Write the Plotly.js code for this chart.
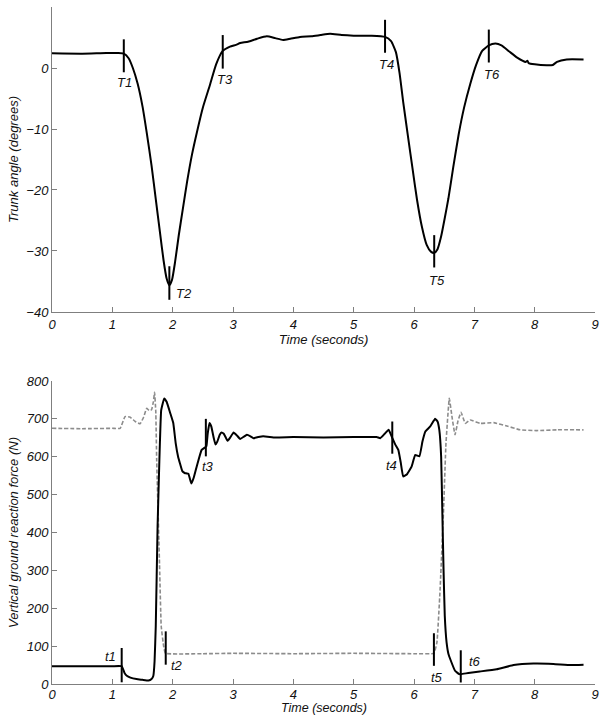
<!DOCTYPE html>
<html>
<head>
<meta charset="utf-8">
<script src="https://cdn.plot.ly/plotly-3.0.1.min.js"></script>
<style>
  html, body { margin: 0; padding: 0; background: #fff; }
  #plot { width: 600px; height: 716px; }
</style>
</head>
<body>
<div id="plot"></div>
<script>
// Trunk angle (top panel)
var tTrunk = [0, 0.5, 0.9, 1.1, 1.19, 1.27, 1.34, 1.42, 1.5, 1.57, 1.65, 1.72, 1.79, 1.85, 1.9, 1.945, 1.99, 2.04, 2.1, 2.17, 2.24, 2.32, 2.4, 2.5, 2.62, 2.72, 2.83, 2.95, 3.05, 3.12, 3.25, 3.4, 3.56, 3.7, 3.83, 3.95, 4.11, 4.3, 4.45, 4.61, 4.8, 5.0, 5.3, 5.52, 5.62, 5.7, 5.76, 5.82, 5.9, 5.98, 6.05, 6.13, 6.21, 6.28, 6.335, 6.39, 6.45, 6.51, 6.57, 6.65, 6.74, 6.83, 6.93, 7.03, 7.13, 7.24, 7.35, 7.45, 7.58, 7.71, 7.85, 7.88, 7.9, 8.0, 8.2, 8.3, 8.37, 8.53, 8.81];
var trunkAngle = [2.4, 2.35, 2.45, 2.45, 2.35, 1.6, 0.0, -2.6, -6.3, -10.6, -16.0, -21.5, -27.0, -31.6, -34.5, -35.6, -34.7, -31.8, -27.5, -23.0, -18.6, -14.2, -10.6, -6.5, -2.7, 0.6, 2.8, 3.5, 3.8, 4.1, 4.3, 4.8, 5.2, 4.9, 4.6, 4.8, 5.1, 5.2, 5.4, 5.6, 5.4, 5.3, 5.3, 5.1, 4.4, 2.6, -0.8, -5.5, -11.2, -16.8, -21.6, -26.0, -29.0, -30.1, -30.3, -29.7, -27.6, -24.6, -21.4, -16.3, -10.9, -6.5, -2.7, 0.5, 2.8, 3.7, 4.0, 3.7, 2.7, 1.7, 1.0, 1.2, 0.8, 0.6, 0.45, 0.5, 1.0, 1.4, 1.4];

var trunkEvents = ["T1", "T2", "T3", "T4", "T5", "T6"];
var trunkEventT = [1.19, 1.945, 2.83, 5.52, 6.335, 7.24];
var trunkEventLo = [-0.7, -38.0, -0.1, 2.5, -32.7, 0.9];
var trunkEventHi = [4.7, -32.5, 5.4, 7.9, -27.4, 6.3];
var trunkLabelX = [1.2, 2.19, 2.87, 5.54, 6.38, 7.29];
var trunkLabelY = [-2.3, -36.9, -1.9, 0.6, -34.8, -1.0];

// Vertical ground reaction force (bottom panel)
var tForceA = [0, 0.5, 1.0, 1.155, 1.2, 1.24, 1.3, 1.4, 1.5, 1.6, 1.65, 1.68, 1.7, 1.72, 1.75, 1.78, 1.81, 1.86, 1.9, 1.96, 2.01, 2.05, 2.09, 2.12, 2.16, 2.2, 2.26, 2.31, 2.35, 2.4, 2.48, 2.54, 2.56, 2.58, 2.61, 2.64, 2.68, 2.71, 2.74, 2.78, 2.81, 2.85, 2.91, 2.95, 3.01, 3.06, 3.12, 3.18, 3.23, 3.29, 3.34, 3.42, 3.5, 3.7, 4.0, 4.5, 5.0, 5.38, 5.44, 5.51, 5.58, 5.64, 5.69, 5.74, 5.78, 5.82, 5.88, 5.96, 6.02, 6.09, 6.14, 6.19, 6.27, 6.35, 6.39, 6.42, 6.45, 6.47, 6.49, 6.51, 6.54, 6.57, 6.6, 6.68, 6.75, 6.78, 6.9, 7.09, 7.37, 7.65, 7.98, 8.31, 8.6, 8.81];
var forceA = [47, 47, 47, 47, 30, 22, 17, 13, 11, 9, 13, 22, 60, 153, 416, 592, 723, 754, 745, 715, 689, 636, 600, 583, 562, 557, 555, 529, 545, 575, 618, 625, 628, 660, 689, 680, 650, 632, 640, 658, 664, 660, 642, 650, 664, 657, 647, 653, 658, 654, 649, 652, 654, 651, 652, 651, 652, 652, 649, 660, 671, 650, 632, 618, 585, 548, 553, 574, 605, 601, 640, 667, 680, 700, 693, 670, 600, 450, 300, 180, 110, 80, 66, 35, 26, 26, 29, 33, 39, 50, 54, 53, 50, 51];

var tForceB = [0, 0.5, 1.0, 1.13, 1.21, 1.29, 1.38, 1.46, 1.52, 1.57, 1.61, 1.65, 1.68, 1.7, 1.72, 1.735, 1.78, 1.81, 1.85, 1.88, 2.5, 3.0, 4.0, 5.0, 6.0, 6.33, 6.38, 6.43, 6.49, 6.53, 6.585, 6.63, 6.68, 6.73, 6.78, 6.85, 6.93, 7.1, 7.32, 7.54, 7.76, 8.03, 8.37, 8.81];
var forceB = [675, 674, 675, 675, 706, 705, 693, 687, 705, 728, 722, 724, 745, 770, 720, 592, 329, 153, 100, 81, 80, 81, 80, 81, 80, 81, 110, 241, 460, 636, 754, 705, 658, 695, 717, 688, 697, 688, 690, 681, 671, 669, 671, 671];

var forceEvents = ["t1", "t2", "t3", "t4", "t5", "t6"];
var forceEventT = [1.155, 1.885, 2.55, 5.64, 6.33, 6.775];
var forceEventLo = [4.5, 51, 601, 608, 48, 4];
var forceEventHi = [95, 139, 700, 693, 134, 89];
var forceLabelX = [0.97, 2.07, 2.59, 5.63, 6.38, 7.01];
var forceLabelY = [72, 48, 573, 576, 18, 59];

function eventSegments(ts, lo, hi) {
  var x = [], y = [];
  ts.forEach(function (t, i) {
    x.push(t, t, null);
    y.push(lo[i], hi[i], null);
  });
  return {x: x, y: y};
}

var font = {family: "Liberation Sans, Arial, Helvetica, sans-serif", size: 13, color: "#111", style: "italic"};

var seg1 = eventSegments(trunkEventT, trunkEventLo, trunkEventHi);
var seg2 = eventSegments(forceEventT, forceEventLo, forceEventHi);

var traces = [
  {x: tTrunk, y: trunkAngle, type: "scatter", mode: "lines", line: {color: "#000", width: 2, shape: "spline", smoothing: 0.5}, xaxis: "x", yaxis: "y"},
  {x: seg1.x, y: seg1.y, type: "scatter", mode: "lines", line: {color: "#000", width: 2}, xaxis: "x", yaxis: "y"},
  {x: tForceB, y: forceB, type: "scatter", mode: "lines", line: {color: "#8c8c8c", width: 1.6, dash: "4px,2px", shape: "spline", smoothing: 0.3}, xaxis: "x2", yaxis: "y2"},
  {x: tForceA, y: forceA, type: "scatter", mode: "lines", line: {color: "#000", width: 2, shape: "spline", smoothing: 0.3}, xaxis: "x2", yaxis: "y2"},
  {x: seg2.x, y: seg2.y, type: "scatter", mode: "lines", line: {color: "#000", width: 2}, xaxis: "x2", yaxis: "y2"}
];

var annotations = [];
trunkEvents.forEach(function (name, i) {
  annotations.push({x: trunkLabelX[i], y: trunkLabelY[i], xref: "x", yref: "y", text: name, showarrow: false, font: font});
});
forceEvents.forEach(function (name, i) {
  annotations.push({x: forceLabelX[i], y: forceLabelY[i], xref: "x2", yref: "y2", text: name, showarrow: false, font: font});
});
// bottom x title sits tight under the tick labels, as in the original
annotations.push({x: 0.5, y: 0, xref: "paper", yref: "paper", xanchor: "center", yanchor: "bottom", yshift: -32,
  text: "Time (seconds)", showarrow: false, borderpad: 0,
  font: Object.assign({}, font, {size: 12.5})});

var axisStyle = {
  showgrid: false, zeroline: false, showline: true, linecolor: "#7f7f7f", linewidth: 1,
  ticks: "inside", ticklen: 5, tickcolor: "#7f7f7f", tickfont: font
};

var layout = {
  width: 600, height: 716,
  margin: {l: 52, r: 5, t: 7, b: 32},
  paper_bgcolor: "#fff", plot_bgcolor: "#fff",
  showlegend: false,
  font: font,
  xaxis: Object.assign({}, axisStyle, {domain: [0, 1], anchor: "y", range: [0, 9], dtick: 1,
    title: {text: "Time (seconds)", font: font, standoff: 2}}),
  yaxis: Object.assign({}, axisStyle, {domain: [0.5495, 1], anchor: "x", range: [-40, 10], dtick: 10,
    title: {text: "Trunk angle (degrees)", font: font, standoff: 4}}),
  xaxis2: Object.assign({}, axisStyle, {domain: [0, 1], anchor: "y2", range: [0, 9], dtick: 1, ticklabelstandoff: -2}),
  yaxis2: Object.assign({}, axisStyle, {domain: [0, 0.4476], anchor: "x2", range: [0, 800], dtick: 100,
    title: {text: "Vertical ground reaction force (N)", font: font, standoff: 4}}),
  annotations: annotations
};

Plotly.newPlot("plot", traces, layout, {displayModeBar: false, staticPlot: true});
</script>
</body>
</html>
